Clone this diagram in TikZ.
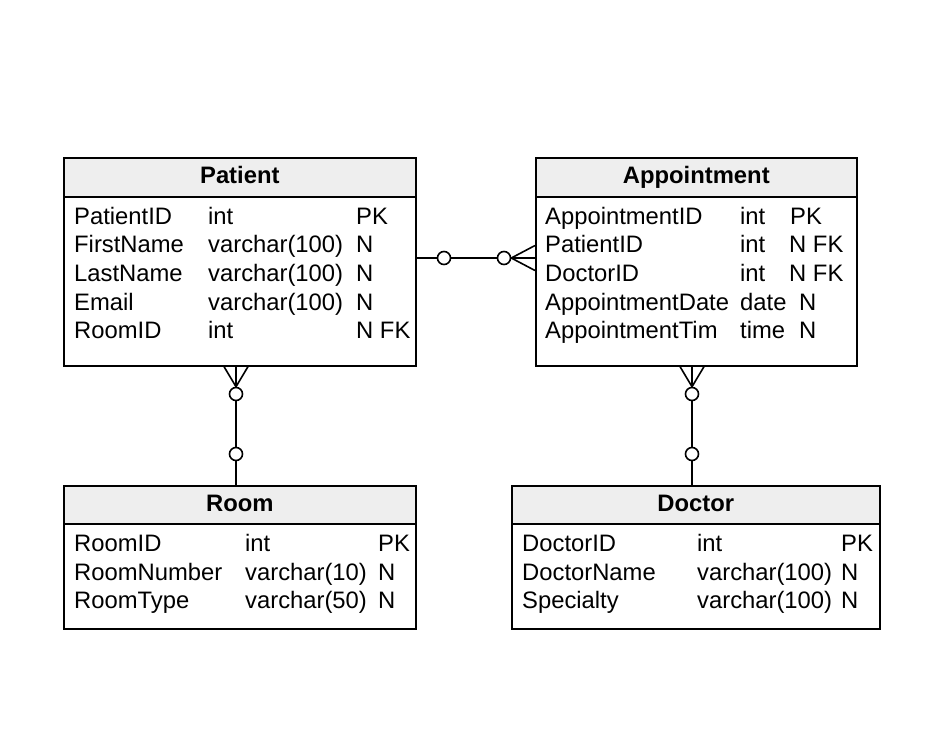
\documentclass[tikz,border=0pt]{standalone}
\usepackage{fontspec}
\setmainfont{Liberation Sans}
\definecolor{hdrgray}{HTML}{EEEEEE}
\begin{document}
\begin{tikzpicture}[x=1pt,y=-1pt,
	font=\fontsize{23.8}{28}\selectfont,
	box/.style={draw, line width=1.6pt, anchor=north west, inner sep=0pt},
	head/.style={box, fill=hdrgray, font=\fontsize{23.8}{28}\selectfont\bfseries, text height=16pt, text depth=3pt},
	fld/.style={anchor=base west, inner sep=0pt},
	ring/.style={circle, draw, line width=1.6pt, fill=white, minimum size=13pt, inner sep=0pt},
	link/.style={line width=1.6pt}]

\useasboundingbox (0,0) rectangle (926,740);

% Patient
	\node [box, minimum width=352pt, minimum height=208pt] (patient) at (63,157) {};
	\node [head, minimum width=352pt, minimum height=39pt] (patienthead) at (63,157) {Patient};
\foreach \n/\t/\k [count=\i from 0] in {PatientID/int/PK, FirstName/varchar(100)/N, LastName/varchar(100)/N, Email/varchar(100)/N, RoomID/int/N FK}{
	\node [fld] (pn\i) at (74,224+28.7*\i) {\n};
	\node [fld] (pt\i) at (208,224+28.7*\i) {\t};
	\node [fld] (pk\i) at (356,224+28.7*\i) {\k};
}

% Appointment
	\node [box, minimum width=321pt, minimum height=208pt] (appointment) at (535,157) {};
	\node [head, minimum width=321pt, minimum height=39pt] (appointmenthead) at (535,157) {Appointment};
\foreach \n/\t/\k/\kx [count=\i from 0] in {AppointmentID/int/PK/790, PatientID/int/N FK/789, DoctorID/int/N FK/789, AppointmentDate/date/N/799, AppointmentTim/time/N/799}{
	\node [fld] (an\i) at (545,224+28.7*\i) {\n};
	\node [fld] (at\i) at (740,224+28.7*\i) {\t};
	\node [fld] (ak\i) at (\kx,224+28.7*\i) {\k};
}

% Room
	\node [box, minimum width=352pt, minimum height=143pt] (room) at (63,485) {};
	\node [head, minimum width=352pt, minimum height=38pt] (roomhead) at (63,485) {Room};
\foreach \n/\t/\k [count=\i from 0] in {RoomID/int/PK, RoomNumber/varchar(10)/N, RoomType/varchar(50)/N}{
	\node [fld] (rn\i) at (74,551.5+28.5*\i) {\n};
	\node [fld] (rt\i) at (245,551.5+28.5*\i) {\t};
	\node [fld] (rk\i) at (378,551.5+28.5*\i) {\k};
}

% Doctor
	\node [box, minimum width=368pt, minimum height=143pt] (doctor) at (511,485) {};
	\node [head, minimum width=368pt, minimum height=38pt] (doctorhead) at (511,485) {Doctor};
\foreach \n/\t/\k [count=\i from 0] in {DoctorID/int/PK, DoctorName/varchar(100)/N, Specialty/varchar(100)/N}{
	\node [fld] (dn\i) at (522,551.5+28.5*\i) {\n};
	\node [fld] (dt\i) at (697,551.5+28.5*\i) {\t};
	\node [fld] (dk\i) at (841,551.5+28.5*\i) {\k};
}

% Patient -- Appointment
\coordinate (pay) at (0,258);
\coordinate (payt) at (0,245.5);
\coordinate (payb) at (0,270.5);
\draw [link] (patient.east |- pay) -- (appointment.west |- pay);
	\node [ring] (pa1) at (444,258) {};
	\node [ring] (pa2) at (504,258) {};
\draw [link] (pa2.east) -- (appointment.west |- payt);
\draw [link] (pa2.east) -- (appointment.west |- payb);

% Patient -- Room
\coordinate (prx) at (236,0);
\coordinate (prl) at (224,0);
\coordinate (prr) at (248,0);
\draw [link] (patient.south -| prx) -- (room.north -| prx);
	\node [ring] (pr1) at (236,394) {};
	\node [ring] (pr2) at (236,454) {};
\draw [link] (pr1.north) -- (patient.south -| prl);
\draw [link] (pr1.north) -- (patient.south -| prr);

% Appointment -- Doctor
\coordinate (adx) at (692,0);
\coordinate (adl) at (680,0);
\coordinate (adr) at (704,0);
\draw [link] (appointment.south -| adx) -- (doctor.north -| adx);
	\node [ring] (ad1) at (692,394) {};
	\node [ring] (ad2) at (692,454) {};
\draw [link] (ad1.north) -- (appointment.south -| adl);
\draw [link] (ad1.north) -- (appointment.south -| adr);

\end{tikzpicture}
\end{document}
